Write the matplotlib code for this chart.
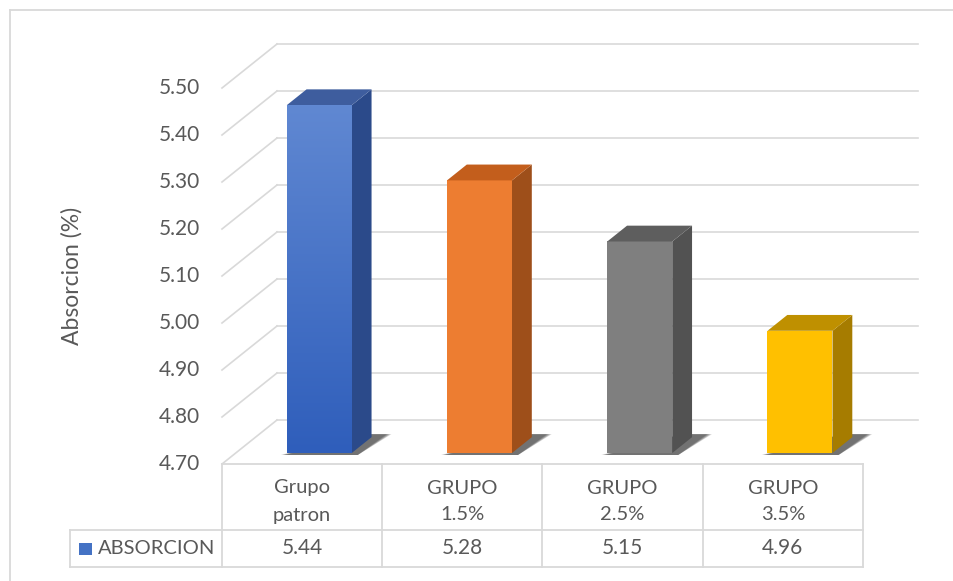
import numpy as np
import matplotlib
matplotlib.use("Agg")
import matplotlib.pyplot as plt
from matplotlib.patches import Polygon

plt.rcParams['font.family'] = ['Lato', 'DejaVu Sans']

categories = [["Grupo", "patron"], ["GRUPO", "1.5%"], ["GRUPO", "2.5%"], ["GRUPO", "3.5%"]]
values = [5.44, 5.28, 5.15, 4.96]
value_labels = ["5.44", "5.28", "5.15", "4.96"]
series_name = "ABSORCION"
y_ticks = [4.70, 4.80, 4.90, 5.00, 5.10, 5.20, 5.30, 5.40, 5.50]
y_label = "Absorcion (%)"

# colours: front, side, top
front_cols = ["#4C78CC", "#ED7D31", "#7F7F7F", "#FFC000"]
side_cols = ["#2B4A8A", "#9E4F1A", "#525252", "#A67C00"]
top_cols = ["#3E5D9E", "#C35E1C", "#5E5E5E", "#BF9000"]
grid_col = "#D9D9D9"
text_col = "#595959"
fs = 14.5

# layout in pixels
W, H = 954, 581
x0, x1 = 222, 863            # floor front edge
y_base = 464                 # front position of the axis minimum
px_per_unit = 470.0
depth = np.array([55.0, -44.0])
cell = (x1 - x0) / len(values)
bar_w = 65
bar_f0, bar_f1 = 0.25, 0.61  # bar depth as fraction of floor depth


def yv(v):
    return y_base - (v - y_ticks[0]) * px_per_unit


def shift(pt, f):
    return (pt[0] + depth[0] * f, pt[1] + depth[1] * f)


fig = plt.figure(figsize=(W / 100, H / 100), dpi=100)
ax = fig.add_axes([0, 0, 1, 1])
ax.set_xlim(0, W)
ax.set_ylim(H, 0)
ax.axis("off")

# chart frame (top and left visible)
ax.plot([10, W], [10, 10], color=grid_col, lw=1.3)
ax.plot([10, 10], [10, H], color=grid_col, lw=1.3)

# gridlines: side wall diagonal + back wall horizontal
for t in y_ticks:
    y = yv(t)
    bx, by = shift((x0, y), 1)
    ax.plot([x0, bx], [y, by], color=grid_col, lw=1.2, zorder=1)
    ax.plot([bx, x1 + depth[0]], [by, by], color=grid_col, lw=1.2, zorder=1)
    ax.text(200, y, f"{t:.2f}", ha="right", va="center", fontsize=fs + 0.5, color=text_col)

ax.text(72, 276, y_label, rotation=90, ha="center", va="center", fontsize=16.5, color=text_col)

# bars
for i, v in enumerate(values):
    left = x0 + i * cell + 51
    right = left + bar_w
    fl_b = shift((left, y_base), bar_f0)
    fr_b = shift((right, y_base), bar_f0)
    h = (v - y_ticks[0]) * px_per_unit
    fl_t = (fl_b[0], fl_b[1] - h)
    fr_t = (fr_b[0], fr_b[1] - h)
    d = bar_f1 - bar_f0
    br_b = shift(fr_b, d)
    br_t = shift(fr_t, d)
    bl_t = shift(fl_t, d)

    # soft floor shadow
    for k in range(6):
        g = 6 - k
        shadow = [(fl_b[0] - g, fl_b[1] + 2), (fr_b[0] + 6, fr_b[1] + 2),
                  (br_b[0] + 14 + g, br_b[1] - 3), (br_b[0] - 10, br_b[1] - 3)]
        ax.add_patch(Polygon(shadow, closed=True, color="#202020", alpha=0.15, lw=0, zorder=2))

    front = Polygon([fl_b, fr_b, fr_t, fl_t], closed=True, facecolor=front_cols[i], edgecolor="none", zorder=3)
    ax.add_patch(front)
    if i == 0:
        # vertical shading on the first bar
        grad = np.linspace(0, 1, 256)[:, None]
        cmap = matplotlib.colors.LinearSegmentedColormap.from_list("b", ["#6088D2", "#2F5EBB"])
        im = ax.imshow(grad, extent=[fl_b[0], fr_b[0], fl_b[1], fl_t[1]], cmap=cmap,
                       aspect="auto", zorder=3.1)
        im.set_clip_path(front)
    ax.add_patch(Polygon([fr_b, br_b, br_t, fr_t], closed=True, facecolor=side_cols[i], edgecolor="none", zorder=3))
    ax.add_patch(Polygon([fl_t, fr_t, br_t, bl_t], closed=True, facecolor=top_cols[i], edgecolor="none", zorder=3))

# data table
row1, row2, row3 = y_base, 530, 567
ax.plot([x0, x1], [row1, row1], color=grid_col, lw=1.3, zorder=4)
ax.plot([70, x1], [row2, row2], color=grid_col, lw=1.3, zorder=4)
ax.plot([70, x1], [row3, row3], color=grid_col, lw=1.3, zorder=4)
ax.plot([70, 70], [row2, row3], color=grid_col, lw=1.3, zorder=4)
for i in range(len(values) + 1):
    xx = x0 + i * cell
    ax.plot([xx, xx], [row1, row3], color=grid_col, lw=1.3, zorder=4)

for i, (cat, lab) in enumerate(zip(categories, value_labels)):
    cx = x0 + (i + 0.5) * cell
    ax.text(cx, 488, cat[0], ha="center", va="center", fontsize=fs, color=text_col)
    ax.text(cx, 515, cat[1], ha="center", va="center", fontsize=fs, color=text_col)
    ax.text(cx, 548, lab, ha="center", va="center", fontsize=fs + 0.5, color=text_col)

ax.add_patch(Polygon([(79, 543), (92, 543), (92, 555), (79, 555)], closed=True, color="#4472C4", lw=0))
ax.text(98, 548, series_name, ha="left", va="center", fontsize=fs, color=text_col)

fig.savefig("out.png", dpi=100)
